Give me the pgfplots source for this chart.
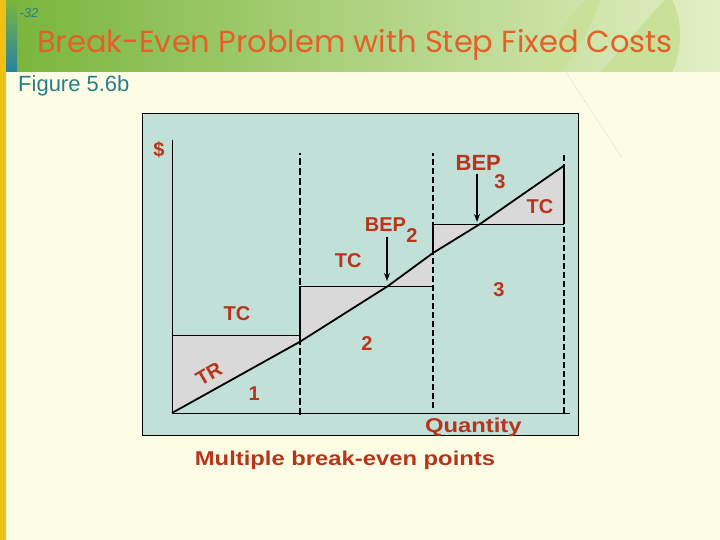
\documentclass[border=0pt]{standalone}
\usepackage{fontspec}
\setmainfont{Liberation Sans}
\newfontfamily\titlefont{Poppins}
\usepackage{pgfplots}
\pgfplotsset{compat=1.18}
\usetikzlibrary{arrows.meta}
\definecolor{tealbg}{RGB}{192,224,216}
\definecolor{labred}{RGB}{184,52,26}
\definecolor{fillgray}{RGB}{217,217,217}
\definecolor{cream}{RGB}{253,252,228}
\definecolor{titleor}{RGB}{228,96,40}
\definecolor{figteal}{RGB}{42,125,140}
\definecolor{gdark}{RGB}{122,182,62}
\definecolor{gmid}{RGB}{208,229,168}
\definecolor{glight}{RGB}{226,239,196}
\definecolor{leafgreen}{RGB}{200,224,152}
\definecolor{yellowbar}{RGB}{240,192,20}
\definecolor{tealbar}{RGB}{40,130,160}
\newcommand\lab[1]{{\fontsize{20}{24}\selectfont\bfseries\color{labred}#1}}
\newcommand\labb[1]{{\fontsize{22}{26}\selectfont\bfseries\color{labred}#1}}
\begin{document}
\begin{tikzpicture}
\begin{scope}[x=1pt,y=-1pt]
\useasboundingbox (0,0) rectangle (720,540);
\fill[cream] (0,0) rectangle (720,540);
\shade[left color=gdark, middle color=gmid, right color=glight] (17,0) rectangle (720,72);
\fill[leafgreen] (540,72) .. controls (555,35) and (570,15) .. (585,0) -- (600,0) .. controls (590,30) and (575,55) .. (560,72) -- cycle;
\fill[leafgreen] (600,72) .. controls (630,40) and (650,15) .. (665,0) -- (672,0) .. controls (685,25) and (680,55) .. (672,72) -- cycle;
\fill[yellowbar] (0,0) rectangle (6,540);
\shade[top color=gdark, bottom color=tealbar] (6,0) rectangle (17,72);
\draw[gray!60, densely dotted] (566,72) -- (622,158);
\node[anchor=base, inner sep=0, text=titleor] at (355,53) {\titlefont\fontsize{30.5}{36}\selectfont Break-Even Problem with Step Fixed Costs};
\node[anchor=base, inner sep=0, text=figteal] at (29,18) {\fontsize{13}{15}\selectfont\itshape -32};
\node[anchor=base west, inner sep=0, text=figteal] at (18,92) {\fontsize{22}{26}\selectfont Figure 5.6b};
\end{scope}
\begin{axis}[at={(142pt,-435pt)}, anchor=south west, scale only axis,
  width=436pt, height=321pt, xmin=-30, xmax=406, ymin=-22, ymax=299,
  axis background/.style={fill=tealbg}, axis line style={black, line width=1pt},
  xtick=\empty, ytick=\empty, clip=false]
% shaded loss/profit areas between TC and TR
\addplot[fill=fillgray, draw=none] coordinates {(0,0) (0,77.7) (128,77.7) (128,71.3)} -- cycle;
\addplot[fill=fillgray, draw=none] coordinates {(128,71.3) (128,127) (216,127)} -- cycle;
\addplot[fill=fillgray, draw=none] coordinates {(216,127) (261,127) (261,160)} -- cycle;
\addplot[fill=fillgray, draw=none] coordinates {(261,160) (261,189) (308,189)} -- cycle;
\addplot[fill=fillgray, draw=none] coordinates {(308,189) (392,189) (392,247.3)} -- cycle;
% capacity boundaries
\addplot[black, line width=2pt, dash pattern=on 7pt off 3pt] coordinates {(128,-2) (128,260)};
\addplot[black, line width=1.2pt, dash pattern=on 6pt off 3pt] coordinates {(261,5) (261,260)};
\addplot[black, line width=1.2pt, dash pattern=on 6pt off 3pt] coordinates {(392,0) (392,260)};
% TC steps
\addplot[black, line width=1pt] coordinates {(0,77.7) (128,77.7)};
\addplot[black, line width=1pt] coordinates {(128,127) (261,127)};
\addplot[black, line width=1pt] coordinates {(261,189) (392,189)};
\addplot[black, line width=2pt] coordinates {(128,71.3) (128,127)};
\addplot[black, line width=1.8pt] coordinates {(261,160) (261,189)};
\addplot[black, line width=1.5pt] coordinates {(392,189) (392,247.3)};
% axes
\addplot[black, line width=1pt] coordinates {(0,273) (0,0) (398,0)};
% TR
\addplot[black, line width=1.8pt] coordinates {(0,0) (128,71.3) (216,127) (261,160) (308,189) (392,247.3)};
% arrows
\draw[-{Stealth[length=8pt,width=6pt]}, line width=1.5pt] (axis cs:215,176) -- (axis cs:215,132);
\draw[-{Stealth[length=8pt,width=6pt]}, line width=1.5pt] (axis cs:305,239) -- (axis cs:305,191);
\end{axis}
\begin{scope}[x=1pt,y=-1pt]
\node[anchor=base, inner sep=0] at (159,157) {\lab{\$}};
\node[anchor=base, inner sep=0] at (237,320.7) {\lab{TC}};
\node[anchor=base, inner sep=0] at (348.3,267.3) {\lab{TC}};
\node[anchor=base, inner sep=0] at (540,214) {\lab{TC}};
\node[anchor=base, inner sep=0] at (254.3,400.7) {\lab{1}};
\node[anchor=base, inner sep=0] at (367,350.7) {\lab{2}};
\node[anchor=base, inner sep=0] at (499,296.7) {\lab{3}};
\node[anchor=base, inner sep=0] at (385.5,231.7) {\lab{BEP}};
\node[anchor=base, inner sep=0] at (412,242.3) {\lab{2}};
\node[anchor=base, inner sep=0] at (478.3,171) {\labb{BEP}};
\node[anchor=base, inner sep=0] at (500,188.3) {\lab{3}};
\node[anchor=center, inner sep=0, rotate=30] at (209,374) {\lab{TR}};
\node[anchor=base, inner sep=0] at (473.3,432.5) {\scalebox{1.19}[1]{\lab{Quantity}}};
\node[anchor=base, inner sep=0] at (345,465.7) {\scalebox{1.19}[1]{\lab{Multiple break-even points}}};
\end{scope}
\end{tikzpicture}
\end{document}
